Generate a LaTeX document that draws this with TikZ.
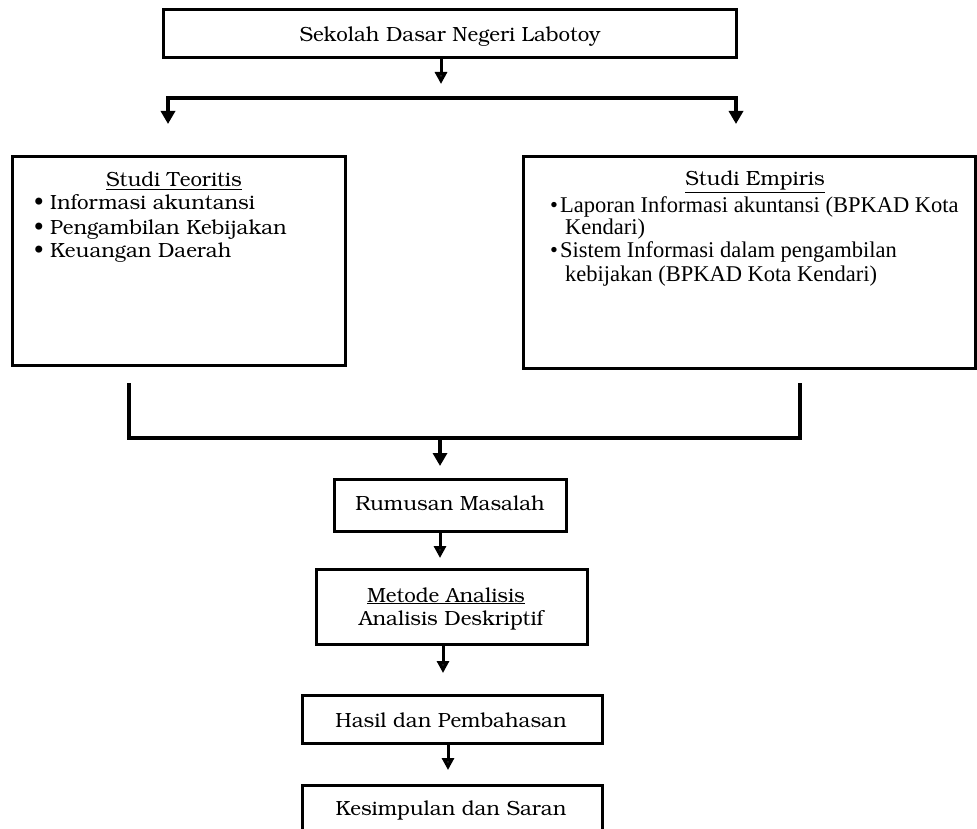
\documentclass[tikz,border=0pt]{standalone}
\usepackage[T1]{fontenc}
\usepackage{fontspec}
\newfontfamily\tnr{Liberation Serif}
\usetikzlibrary{arrows.meta}
\newcommand\bk{\fontencoding{T1}\fontfamily{pbk}\fontsize{20.5}{23.5}\selectfont}
\newcommand\tms{\tnr\fontsize{22.5}{23}\selectfont}
\tikzset{
  frame/.style={draw=black, line width=3pt, inner sep=0pt, outer sep=0pt},
  bktext/.style={font=\bk, inner sep=0pt, anchor=base},
  bkleft/.style={font=\bk, inner sep=0pt, anchor=base west},
  tmleft/.style={font=\tms, inner sep=0pt, anchor=base west},
  heavy/.style={draw=black, line width=3.5pt},
  bigarrow/.style={draw=black, line width=3.5pt, -{Triangle[width=14pt,length=13pt]}},
  smallarrow/.style={draw=black, line width=3pt, -{Triangle[width=12pt,length=12pt,fill=black!85]}},
}
\begin{document}
\begin{tikzpicture}[x=1pt,y=-1pt]
\clip (0,0) rectangle (977,829);
\fill[white] (0,0) rectangle (977,829);

% top box
\node[frame, minimum width=573pt, minimum height=48pt] (top) at (450,34) {};
\node[bktext] (toptxt) at (450,42) {Sekolah Dasar Negeri Labotoy};

% splitting
\coordinate (a1) at (441,84);
\coordinate (hl) at (168,98);
\coordinate (hr) at (736,98);
\coordinate (hlb) at (168,124);
\coordinate (hrb) at (736,124);
\draw[smallarrow] (top.south -| a1) -- (a1);
\draw[heavy, line cap=rect] (hl) -- (hr);
\draw[bigarrow] (hl) -- (hlb);
\draw[bigarrow] (hr) -- (hrb);

% left box
\node[frame, minimum width=333pt, minimum height=208pt] (teo) at (178.5,261) {};
\node[bktext] (teoT) at (174,187) {\underline{Studi Teoritis}};
\node[bkleft] (teo1) at (34,210) {\textbullet\ Informasi akuntansi};
\node[bkleft] (teo2) at (34,234) {\textbullet\ Pengambilan Kebijakan};
\node[bkleft] (teo3) at (34,257) {\textbullet\ Keuangan Daerah};

% right box
\node[frame, minimum width=452pt, minimum height=211pt] (emp) at (749,262.5) {};
\node[bktext] (empT) at (755,186) {\underline{Studi Empiris}};
\node[tmleft] (emp1) at (550,213) {\textbullet\kern2pt Laporan Informasi akuntansi (BPKAD Kota};
\node[tmleft] (emp1b) at (565,235) {Kendari)};
\node[tmleft] (emp2) at (550,258) {\textbullet\kern2pt Sistem Informasi dalam pengambilan};
\node[tmleft] (emp2b) at (565,281) {kebijakan (BPKAD Kota Kendari)};

% bracket
\coordinate (bl) at (129,383);
\coordinate (blb) at (129,438);
\coordinate (br) at (800,383);
\coordinate (brb) at (800,438);
\coordinate (bm) at (440,438);
\coordinate (bmt) at (440,466);
\draw[heavy] (bl) -- (blb) -- (brb) -- (br);
\draw[bigarrow] (bm) -- (bmt);

% Rumusan
\node[frame, minimum width=232pt, minimum height=52pt] (rum) at (450,505) {};
\node[bktext] (rumtxt) at (450,510) {Rumusan Masalah};
\coordinate (a2) at (440,558);
\draw[smallarrow] (rum.south -| a2) -- (a2);

% Metode
\node[frame, minimum width=271pt, minimum height=75pt] (met) at (451.5,606.5) {};
\node[bktext] (met1) at (446,602) {\underline{Metode Analisis}};
\node[bktext] (met2) at (451,625) {Analisis Deskriptif};
\coordinate (a3) at (443,673);
\draw[smallarrow] (met.south -| a3) -- (a3);

% Hasil
\node[frame, minimum width=300pt, minimum height=48pt] (has) at (452,719) {};
\node[bktext] (hastxt) at (451,727) {Hasil dan Pembahasan};
\coordinate (a4) at (448,770);
\draw[smallarrow] (has.south -| a4) -- (a4);

% Kesimpulan (cut off at the bottom)
\node[frame, minimum width=300pt, minimum height=80pt] (kes) at (452,825) {};
\node[bktext] (kestxt) at (451,815) {Kesimpulan dan Saran};
\end{tikzpicture}
\end{document}
